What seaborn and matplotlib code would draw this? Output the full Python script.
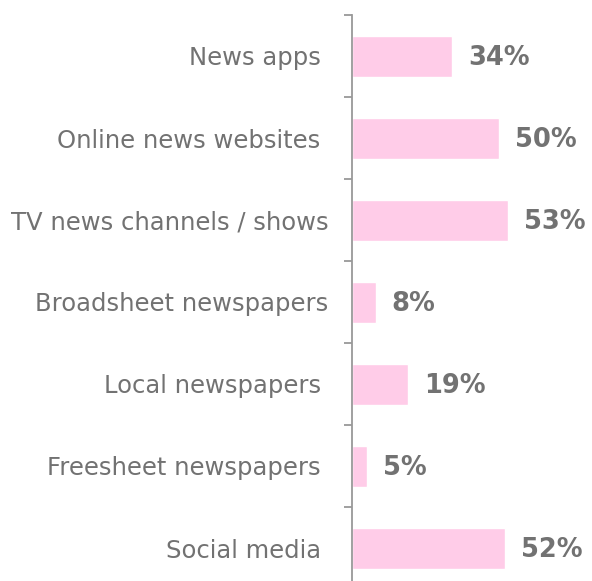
import matplotlib
matplotlib.use("Agg")
import matplotlib.pyplot as plt
import seaborn as sns
import pandas as pd
import numpy as np

categories = ["News apps ", "Online news websites ", "TV news channels / shows",
              "Broadsheet newspapers", "Local newspapers ", "Freesheet newspapers ",
              "Social media "]
values = [34, 50, 53, 8, 19, 5, 52]

sns.set_style("white")
plt.rcParams["font.family"] = ["DejaVu Sans"]

df = pd.DataFrame({"source": categories, "share": values})

fig = plt.figure(figsize=(5.92, 5.81), dpi=100)
ax = fig.add_axes([352 / 592, -8 / 581, 240 / 592, 574 / 581])

sns.barplot(data=df, y="source", x="share", orient="h", color="#FFCCE8",
            width=0.5, saturation=1, ax=ax)

ax.set_xlim(0, 240 / 2.94)
ax.set_ylim(len(categories) - 0.5, -0.5)
ax.set_xlabel("")
ax.set_ylabel("")
ax.set_xticks([])

for s in ["top", "right", "bottom"]:
    ax.spines[s].set_visible(False)
ax.spines["left"].set_color("#999999")
ax.spines["left"].set_linewidth(1.3)

ax.tick_params(axis="y", which="major", left=False, length=0, pad=17,
               labelsize=17.5, labelcolor="#727272")
ax.set_yticks(np.arange(-0.5, len(categories)), minor=True)
ax.tick_params(axis="y", which="minor", left=True, length=6, width=1.3,
               color="#999999")

for i, v in enumerate(values):
    ax.text(v + 16 / 2.94, i + 0.02, f"{v}%", va="center", ha="left",
            fontsize=18.5, fontweight="bold", color="#727272")

fig.savefig("out.png", dpi=100)
